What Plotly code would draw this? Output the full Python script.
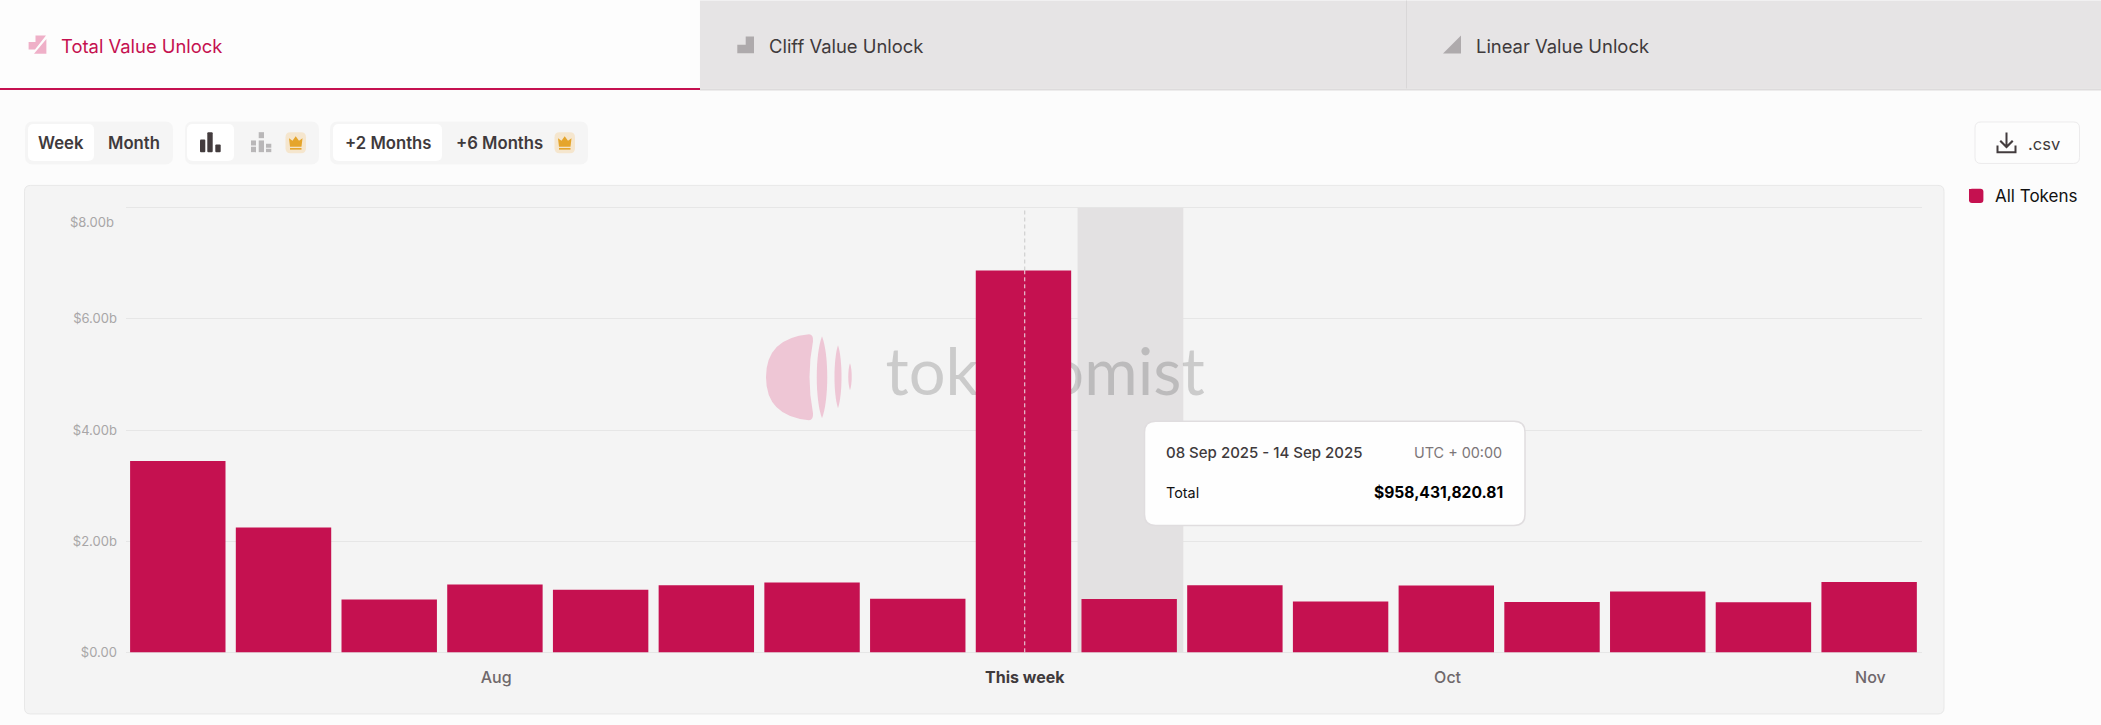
import plotly.graph_objects as go

# ---------- data ----------
week_index = list(range(17))
unlock_values = [3.44e9, 2.245e9, 0.95e9, 1.22e9, 1.125e9, 1.208e9, 1.257e9, 0.964e9, 6.87e9,
                 958431820.81, 1.208e9, 0.916e9, 1.2e9, 0.903e9, 1.095e9, 0.90e9, 1.264e9]
tick_positions = [3, 8, 12, 16]
tick_labels = ["Aug", "<b><span style='color:#3f3a3c'>This week</span></b>", "Oct", "Nov"]
y_ticks = [0, 2e9, 4e9, 6e9, 8e9]
y_labels = ["$0.00", "$2.00b", "$4.00b", "$6.00b", ""]
top_y_label = "$8.00b"
this_week = 8
hover_week = 9
series_name = "All Tokens"

# ---------- style ----------
W, H = 2101, 725
L, R, T, B = 126, 1922, 205.6, 654
CRIMSON = "#c51150"
FONT = "Inter"
X_RANGE = [-0.49, 16.5]
Y_RANGE = [-0.0305e9, 8.0305e9]
NUDGE = 0.012


def fx(px):
    return (px - L) / (R - L)


def fy(py):
    return (B - py) / (B - T)


def rrect(x0, y0, x1, y1, r, fill, line=None, lw=1, layer="above"):
    c = [
        (x0 + r, y0), (x1 - r, y0), (x1, y0), (x1, y0 + r), (x1, y1 - r), (x1, y1),
        (x1 - r, y1), (x0 + r, y1), (x0, y1), (x0, y1 - r), (x0, y0 + r), (x0, y0), (x0 + r, y0),
    ]
    p = lambda t: f"{fx(t[0]):.6f},{fy(t[1]):.6f}"
    path = (f"M{p(c[0])} L{p(c[1])} Q{p(c[2])} {p(c[3])} L{p(c[4])} Q{p(c[5])} {p(c[6])} "
            f"L{p(c[7])} Q{p(c[8])} {p(c[9])} L{p(c[10])} Q{p(c[11])} {p(c[12])} Z")
    return dict(type="path", xref="paper", yref="paper", path=path, fillcolor=fill, layer=layer,
                line=dict(color=line or fill, width=lw if line else 0))


def poly(points, fill, layer="above"):
    path = "M" + " L".join(f"{fx(a):.6f},{fy(b):.6f}" for a, b in points) + " Z"
    return dict(type="path", xref="paper", yref="paper", path=path, fillcolor=fill, layer=layer,
                line=dict(width=0))


def box(x0, y0, x1, y1, fill, layer="above"):
    return dict(type="rect", xref="paper", yref="paper", x0=fx(x0), x1=fx(x1), y0=fy(y0), y1=fy(y1),
                fillcolor=fill, line=dict(width=0), layer=layer)


def lens(x0, y0, x1, y1, fill, layer="between"):
    xm, ym = (x0 + x1) / 2, (y0 + y1) / 2
    p = lambda a, b: f"{fx(a):.6f},{fy(b):.6f}"
    path = (f"M{p(xm, y0)} C{p(x1, y0 + (y1 - y0) * 0.22)} {p(x1, y1 - (y1 - y0) * 0.22)} {p(xm, y1)} "
            f"C{p(x0, y1 - (y1 - y0) * 0.22)} {p(x0, y0 + (y1 - y0) * 0.22)} {p(xm, y0)} Z")
    return dict(type="path", xref="paper", yref="paper", path=path, fillcolor=fill, layer=layer,
                line=dict(width=0))


def logo_disc(fill, layer="between"):
    p = lambda a, b: f"{fx(a):.6f},{fy(b):.6f}"
    path = (f"M{p(809, 334)} Q{p(766, 338)} {p(766, 377)} Q{p(766, 416)} {p(809, 420)} "
            f"Q{p(813.5, 420)} {p(813, 413)} Q{p(806, 377)} {p(813, 341)} Q{p(813.5, 334)} {p(809, 334)} Z")
    return dict(type="path", xref="paper", yref="paper", path=path, fillcolor=fill, layer=layer,
                line=dict(width=0))


def text(px, py, s, size, color, anchor="left", weight=400, family=FONT):
    off = {"left": -2.5, "right": 1.3, "center": 0}[anchor]
    return dict(xref="paper", yref="paper", x=fx(px + off), y=fy(py), text=s, showarrow=False,
                xanchor=anchor, yanchor="middle", align=anchor,
                font=dict(size=size, color=color, family=family, weight=weight))


def crown(x0, y0):
    g = "#e5a52c"
    return [
        rrect(x0, y0, x0 + 20.5, y0 + 21, 5, "#f5e6ce"),
        poly([(x0 + 3.5, y0 + 6), (x0 + 7, y0 + 8.5), (x0 + 10.2, y0 + 4.2), (x0 + 13.5, y0 + 8.5),
              (x0 + 17, y0 + 6), (x0 + 16, y0 + 14.5), (x0 + 4.5, y0 + 14.5)], g),
        box(x0 + 4.5, y0 + 15.8, x0 + 16, y0 + 17.5, g),
    ]


shapes = [
    # page chrome
    box(0, 0, 699, 87, "#fdfdfd", "below"),
    box(700, 0, 2101, 88, "#e6e4e5", "below"),
    box(1406, 0, 1407, 88, "#d9d7d8", "below"),
    box(700, 88, 2101, 90, "#dddbdc", "below"),
    box(0, 87.5, 700, 89.5, CRIMSON, "below"),
    # tab icons
    poly([(28.6, 41.5), (35.5, 41.5), (35.5, 35), (46, 35), (35, 49), (28.6, 49)], "#efb0c8", "below"),
    poly([(46.4, 38.5), (46.4, 53.3), (34, 53.3)], "#efb0c8", "below"),
    poly([(745.7, 36), (754, 36), (754, 52.7), (737.3, 52.7), (737.3, 44.3), (745.7, 44.3)], "#aeaaac", "below"),
    poly([(1461, 35), (1461, 53), (1443, 53)], "#aeaaac", "below"),
    # control groups
    rrect(25, 121, 173, 164, 8, "#f5f5f5", layer="below"),
    rrect(28, 123.5, 94, 160.5, 6, "#ffffff", layer="below"),
    rrect(185, 121, 319, 164, 8, "#f5f5f5", layer="below"),
    rrect(187, 123.5, 234, 160.5, 6, "#ffffff", layer="below"),
    rrect(330, 121, 588, 164, 8, "#f5f5f5", layer="below"),
    rrect(333, 123.5, 442, 160.5, 6, "#ffffff", layer="below"),
    # bars icon
    rrect(200, 139, 205.3, 151.7, 1, "#433c3e"),
    rrect(207.3, 131.7, 212.7, 151.7, 1, "#433c3e"),
    rrect(215.3, 144, 220.7, 151.7, 1, "#433c3e"),
    # stacked bars icon
    box(251, 140, 256, 145, "#b9b7b8"), box(251, 146.3, 256, 151.7, "#b9b7b8"),
    box(258.7, 131.7, 264, 137.7, "#b9b7b8"), box(258.7, 140, 264, 151.7, "#b9b7b8"),
    box(266, 143.3, 271.3, 147.3, "#b9b7b8"), box(266, 148.3, 271.3, 151.7, "#b9b7b8"),
    *crown(285.5, 131.7),
    *crown(554.5, 131.7),
    # csv button
    rrect(1975, 121.5, 2079.5, 163, 6, "#fdfdfd", "#ecebec", 1, "below"),
    poly([(2005.5, 132), (2007.5, 132), (2007.5, 144), (2012, 139.5), (2013.5, 141), (2006.5, 148),
          (1999.5, 141), (2001, 139.5), (2005.5, 144)], "#433c3e"),
    poly([(1996.5, 145), (1998.5, 145), (1998.5, 150.7), (2014.5, 150.7), (2014.5, 145), (2016.5, 145),
          (2016.5, 152.7), (1996.5, 152.7)], "#433c3e"),
    # legend swatch backing (rounded corners around the legend's own square)
    rrect(1969, 188.3, 1983.4, 202.7, 3, CRIMSON, layer="below"),
    # chart panel
    rrect(24.5, 185, 1944, 714, 6, "#f4f4f4", "#e8e8e8", 1, "below"),
    # hovered week band
    dict(type="rect", xref="x", yref="y", x0=hover_week - 0.5 + NUDGE, x1=hover_week + 0.5 + NUDGE, y0=0,
         y1=8e9, fillcolor="#e3e1e2", line=dict(width=0), layer="between"),
    # watermark logo
    logo_disc("#eec6d5"),
    lens(815, 336, 829, 418, "#eec6d5"),
    lens(833.3, 345, 842.7, 408, "#eec6d5"),
    lens(847.7, 363, 852.3, 390, "#eec6d5"),
    # crosshair
    dict(type="line", xref="x", yref="y", x0=this_week + NUDGE, x1=this_week + NUDGE, y0=unlock_values[this_week],
         y1=8e9, line=dict(color="#c9c9c9", width=1, dash="4px,3px"), layer="above"),
    dict(type="line", xref="x", yref="y", x0=this_week + NUDGE, x1=this_week + NUDGE, y0=0,
         y1=unlock_values[this_week], line=dict(color="#eee6e9", width=1, dash="4px,3px"), layer="above"),
    # tooltip
    rrect(1144.5, 421, 1525, 525.5, 11, "#fefefe", "#e0dddf", 1.5),
]

annotations = [
    text(61.5, 45, "Total Value Unlock", 18.4, CRIMSON),
    text(769, 45, "Cliff Value Unlock", 18.4, "#3f3a3c"),
    text(1476, 45, "Linear Value Unlock", 18.4, "#3f3a3c"),
    text(61, 143, "Week", 16.7, "#3f3a3c", "center", 600),
    text(134, 143, "Month", 16.7, "#3f3a3c", "center", 600),
    text(387.5, 143, "+2 Months", 16.7, "#3f3a3c", "center", 600),
    text(499.6, 143, "+6 Months", 16.7, "#3f3a3c", "center", 600),
    text(2028.5, 144, ".csv", 16.5, "#3f3a3c"),
    text(1166, 452, "08 Sep 2025 - 14 Sep 2025", 15, "#3f3a3c", "left", 500),
    text(1502.5, 452, "UTC + 00:00", 14.4, "#7c7678", "right"),
    text(1166, 492.5, "Total", 14.4, "#111111"),
    text(1503.5, 492.5, "$958,431,820.81", 15.6, "#000000", "right", 700),
    text(115, 222, top_y_label, 13, "#a8a6a7", "right"),
]

fig = go.Figure()
# watermark sits on the lower subplot so the bars cover it
fig.add_trace(go.Scatter(
    x=[8.205], y=[4.93e9], mode="text", text=["tokenomist"], textposition="middle center",
    textfont=dict(size=65, color="rgba(0,0,0,0.17)", family="Lato"),
    hoverinfo="skip", showlegend=False, xaxis="x", yaxis="y",
))
fig.add_trace(go.Bar(
    x=week_index, y=unlock_values, name=series_name,
    marker=dict(color=CRIMSON, line=dict(width=0)),
    xaxis="x2", yaxis="y2", showlegend=True, hoverinfo="skip",
))

fig.update_layout(
    width=W, height=H, autosize=False,
    margin=dict(l=L, r=W - R, t=T, b=H - B, autoexpand=False),
    paper_bgcolor="#fcfcfc", plot_bgcolor="#f4f4f4",
    bargap=0.0975, font=dict(family=FONT),
    xaxis=dict(range=X_RANGE, tickvals=[p + NUDGE for p in tick_positions], ticktext=tick_labels, showgrid=False,
               zeroline=False, showline=False, ticks="outside", ticklen=9, tickcolor="rgba(0,0,0,0)",
               tickfont=dict(size=16, color="#6f686b", family=FONT, weight=500), fixedrange=True),
    yaxis=dict(range=Y_RANGE, tickvals=y_ticks, ticktext=y_labels, showgrid=True, gridcolor="#e6e6e6",
               gridwidth=1, zeroline=False, showline=False, ticks="outside", ticklen=5.5,
               tickcolor="rgba(0,0,0,0)", tickfont=dict(size=13, color="#a8a6a7", family=FONT),
               fixedrange=True),
    xaxis2=dict(range=X_RANGE, overlaying="x", visible=False, fixedrange=True),
    yaxis2=dict(range=Y_RANGE, overlaying="y", visible=False, fixedrange=True),
    legend=dict(x=fx(1955), y=fy(195), xanchor="left", yanchor="middle", bgcolor="rgba(0,0,0,0)",
                font=dict(size=17, color="#111111", family=FONT), itemclick=False, itemdoubleclick=False),
    shapes=shapes, annotations=annotations,
)

fig.write_html("out.html", config=dict(displayModeBar=False),
               post_script="document.body.style.margin='0';document.documentElement.style.overflow='hidden';")
